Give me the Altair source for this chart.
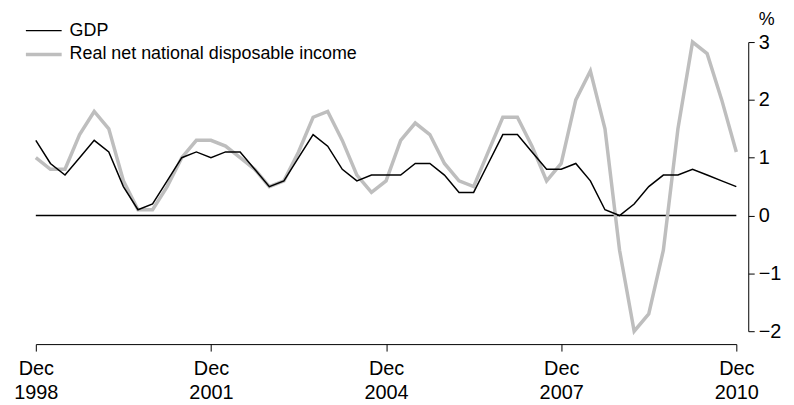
import altair as alt
import pandas as pd

# Quarterly percentage change, Dec 1998 .. Dec 2010
start_year = 1998
series_names = ["GDP", "Real net national disposable income"]
gdp = [1.3, 0.9, 0.7, 1.0, 1.3, 1.1, 0.5, 0.1, 0.2, 0.6,
       1.0, 1.1, 1.0, 1.1, 1.1, 0.8, 0.5, 0.6, 1.0, 1.4,
       1.2, 0.8, 0.6, 0.7, 0.7, 0.7, 0.9, 0.9, 0.7, 0.4,
       0.4, 0.9, 1.4, 1.4, 1.1, 0.8, 0.8, 0.9, 0.6, 0.1,
       0.0, 0.2, 0.5, 0.7, 0.7, 0.8, 0.7, 0.6, 0.5]
rnndi = [1.0, 0.8, 0.8, 1.4, 1.8, 1.5, 0.6, 0.1, 0.1, 0.5,
         1.0, 1.3, 1.3, 1.2, 1.0, 0.8, 0.5, 0.6, 1.1, 1.7,
         1.8, 1.3, 0.7, 0.4, 0.6, 1.3, 1.6, 1.4, 0.9, 0.6,
         0.5, 1.1, 1.7, 1.7, 1.2, 0.6, 0.9, 2.0, 2.5, 1.5,
         -0.6, -2.0, -1.7, -0.6, 1.5, 3.0, 2.8, 2.0, 1.1]
x_ticks = [0, 12, 24, 36, 48]
y_ticks = [-2, -1, 0, 1, 2, 3]
colors = ["#000000", "#bebebe"]
widths = [1.5, 3.5]

n = len(gdp)
df = pd.DataFrame({
    "q": list(range(n)) * 2,
    "value": gdp + rnndi,
    "series": [series_names[0]] * n + [series_names[1]] * n,
})
zero_df = pd.DataFrame({"v": [0]})

FONT = "Liberation Sans"
AXSIZE = 20

x_enc = alt.X("q:Q",
              scale=alt.Scale(domain=[0, n - 1], nice=False, zero=False),
              axis=alt.Axis(values=x_ticks, title=None, grid=False, offset=13,
                            labelExpr=f"['Dec', toString({start_year} + datum.value/4)]",
                            tickSize=7, tickColor="black", domainColor="black",
                            labelFont=FONT, labelFontSize=AXSIZE, labelColor="black",
                            labelLineHeight=24, labelPadding=8, labelFlush=False))
y_enc = alt.Y("value:Q",
              scale=alt.Scale(domain=[-2, 3], nice=False, zero=False),
              axis=alt.Axis(orient="right", values=y_ticks, grid=False, offset=12,
                            format="d", tickSize=6, tickColor="black", domainColor="black",
                            labelFont=FONT, labelFontSize=AXSIZE, labelColor="black",
                            labelPadding=4,
                            title="%", titleAngle=0, titleX=18, titleY=-18,
                            titleAlign="center", titleBaseline="alphabetic",
                            titleFont=FONT, titleFontSize=18, titleFontWeight="normal",
                            titleColor="black"))

legend = alt.Legend(title=None, orient="none", legendX=-12, legendY=-23,
                    symbolType="stroke", symbolSize=1296, clipHeight=23,
                    labelFont=FONT, labelFontSize=18, labelColor="black", labelLimit=0,
                    rowPadding=1, padding=0, labelOffset=6)
color_enc = alt.Color("series:N",
                      scale=alt.Scale(domain=series_names, range=colors),
                      legend=legend)
sw_enc = alt.StrokeWidth("series:N",
                         scale=alt.Scale(domain=series_names, range=widths),
                         legend=legend)

rule = alt.Chart(zero_df).mark_rule(color="black", strokeWidth=1.5).encode(
    y=alt.Y("v:Q", scale=alt.Scale(domain=[-2, 3])))
gray = alt.Chart(df).transform_filter(alt.datum.series == series_names[1]).mark_line().encode(
    x=x_enc, y=y_enc, color=color_enc, strokeWidth=sw_enc)
black = alt.Chart(df).transform_filter(alt.datum.series == series_names[0]).mark_line().encode(
    x=x_enc, y=y_enc, color=color_enc, strokeWidth=sw_enc)

chart = alt.layer(rule, gray, black).properties(
    width=705, height=291,
    autosize=alt.AutoSizeParams(type="none"),
    padding={"left": 28, "top": 33, "right": 50, "bottom": 72},
).configure(background="white").configure_view(stroke=None, strokeWidth=0)

chart.save("out.html", embed_options={"renderer": "svg", "actions": False})
